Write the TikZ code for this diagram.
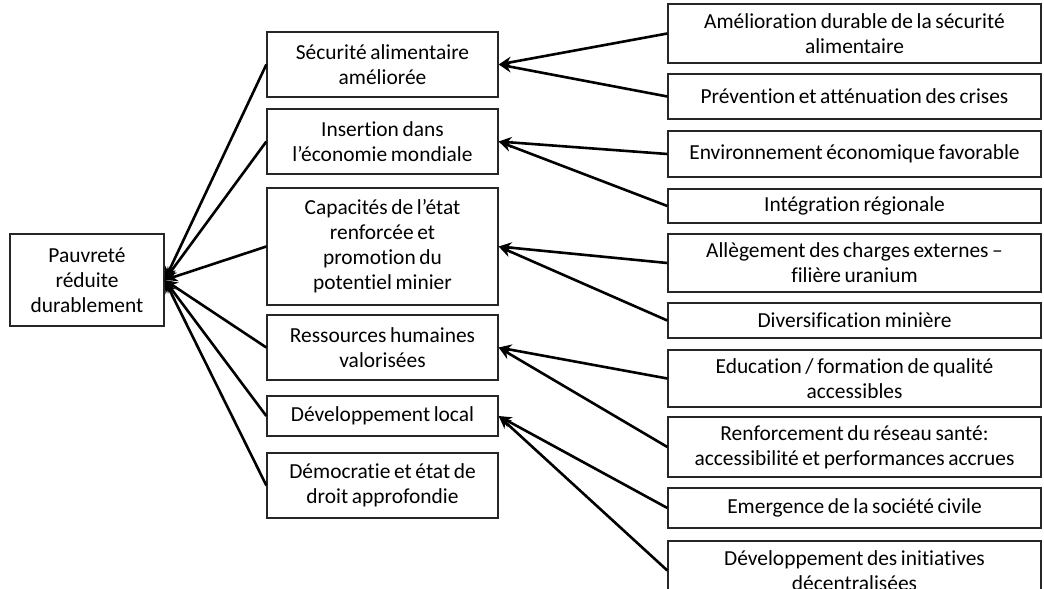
\documentclass[tikz,border=0pt]{standalone}
\usepackage{fontspec}
\setmainfont{Carlito}[Ligatures=NoCommon,WordSpace=0.75]
\usetikzlibrary{arrows.meta}
\begin{document}
\begin{tikzpicture}[x=1bp,y=-1bp,
  box/.style={draw=black!85,line width=1.3bp,rectangle,inner sep=0pt,align=center,
    font=\fontsize{21.5}{25}\selectfont},
  mid/.style={box,minimum width=231bp},
  side/.style={box,minimum width=373bp},
  link/.style={line width=2.6bp,-{Stealth[length=13bp,width=11bp]}}]
\useasboundingbox (0,0) rectangle (1044,589);

% root goal
\node[box,minimum width=154bp,minimum height=92bp] (L) at (87,280)
  {Pauvreté\\réduite\\durablement};

% strategic axes
\node[mid,minimum height=65bp]  (M1) at (382.5,64.5)  {Sécurité alimentaire\\améliorée};
\node[mid,minimum height=65bp]  (M2) at (382.5,141.5) {Insertion dans\\l’économie mondiale};
\node[mid,minimum height=117bp] (M3) at (382.5,246.5) {Capacités de l’état\\renforcée et\\promotion du\\potentiel minier};
\node[mid,minimum height=65bp]  (M4) at (382.5,347.5) {Ressources humaines\\valorisées};
\node[mid,minimum height=40bp]  (M5) at (382.5,416)   {Développement local};
\node[mid,minimum height=65bp]  (M6) at (382.5,485.5) {Démocratie et état de\\droit approfondie};

% programmes
\node[side,minimum height=59bp] (R1)  at (854.5,33.5)  {Amélioration durable de la sécurité\\alimentaire};
\node[side,minimum height=45bp] (R2)  at (854.5,96.5)  {Prévention et atténuation des crises};
\node[side,minimum height=46bp] (R3)  at (854.5,154)   {Environnement économique favorable};
\node[side,minimum height=34bp] (R4)  at (854.5,206)   {Intégration régionale};
\node[side,minimum height=58bp] (R5)  at (854.5,263)   {Allègement des charges externes --\\filière uranium};
\node[side,minimum height=35bp] (R6)  at (854.5,320.5) {Diversification minière};
\node[side,minimum height=57bp] (R7)  at (854.5,378.5) {Education / formation de qualité\\accessibles};
\node[side,minimum height=60bp] (R8)  at (854.5,447)   {Renforcement du réseau santé:\\accessibilité et performances accrues};
\node[side,minimum height=40bp] (R9)  at (854.5,508)   {Emergence de la société civile};
\node[side,minimum height=59bp] (R10) at (854.5,570.5) {Développement des initiatives\\décentralisées};

% axes feed the root goal
\foreach \m in {M1,M2,M3,M4,M5,M6}
  \draw[link] (\m.west) -- (L.east);

% programmes feed the axes
\draw[link] (R1.west)  -- (M1.east);
\draw[link] (R2.west)  -- (M1.east);
\draw[link] (R3.west)  -- (M2.east);
\draw[link] (R4.west)  -- (M2.east);
\draw[link] (R5.west)  -- (M3.east);
\draw[link] (R6.west)  -- (M3.east);
\draw[link] (R7.west)  -- (M4.east);
\draw[link] (R8.west)  -- (M4.east);
\draw[link] (R9.west)  -- (M5.east);
\draw[link] (R10.west) -- (M5.east);
\end{tikzpicture}
\end{document}
